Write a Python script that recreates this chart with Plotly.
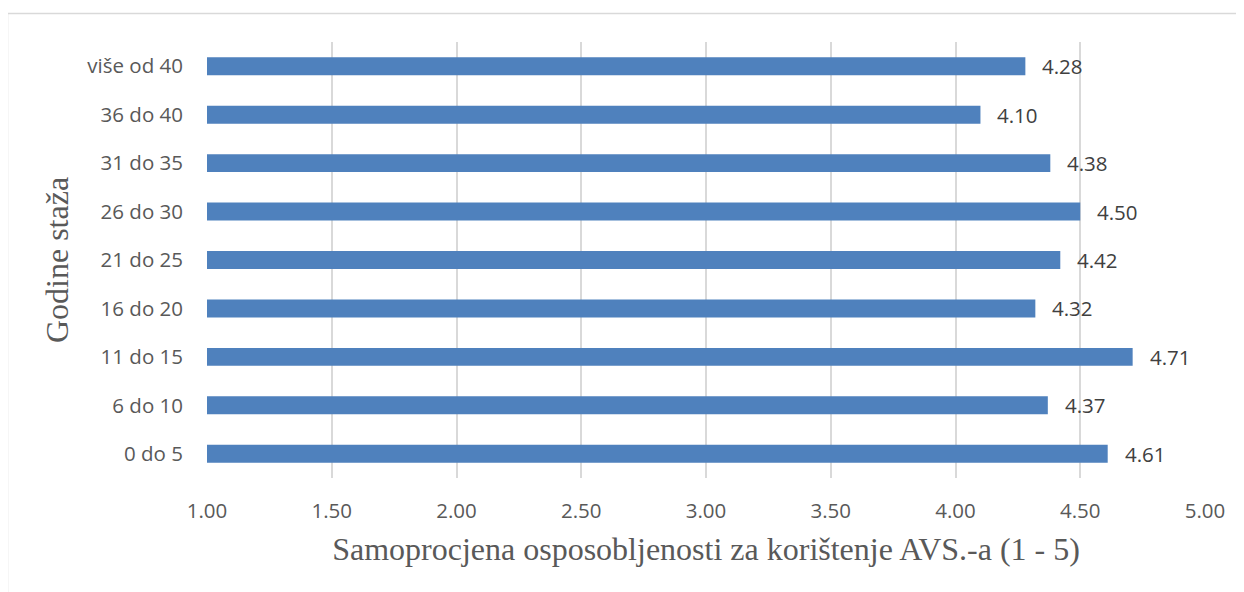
import plotly.graph_objects as go

# Data
categories = ["0 do 5", "6 do 10", "11 do 15", "16 do 20", "21 do 25",
              "26 do 30", "31 do 35", "36 do 40", "više od 40"]
values = [4.61, 4.37, 4.71, 4.32, 4.42, 4.50, 4.38, 4.10, 4.28]
tick_vals = [1.0, 1.5, 2.0, 2.5, 3.0, 3.5, 4.0, 4.5, 5.0]

# page body has an 8px margin, so the figure is a bit smaller than the window
OFF = 8
W, H = 1244 - OFF, 592 - OFF
L, R, T, B = 207 - OFF, 39, 42 - OFF, 114
pw, ph = W - L - R, H - T - B

fig = go.Figure(go.Bar(
    x=[v - 1 for v in values],
    base=1,
    y=categories,
    orientation="h",
    width=0.37,
    marker=dict(color="#4F81BD", line=dict(width=0)),
    hoverinfo="skip",
))

# data labels
for c, v in zip(categories, values):
    fig.add_annotation(x=v, y=c, text=f"{v:.2f}", showarrow=False,
                       xanchor="left", xshift=15,
                       font=dict(family="Open Sans", size=20.5, color="#404040"))

# outer chart border (cropped at right and bottom in the reference)
fig.add_shape(type="rect", xref="paper", yref="paper", layer="below",
              x0=(7.5 - OFF - L) / pw, x1=(W + 20 - L) / pw,
              y0=(T + ph - (H + 20)) / ph, y1=(T + ph - (13.5 - OFF)) / ph,
              line=dict(color="#D9D9D9", width=1.5), fillcolor="rgba(0,0,0,0)")

fig.update_layout(
    width=W, height=H,
    margin=dict(l=L, r=R, t=T, b=B, autoexpand=False),
    paper_bgcolor="white", plot_bgcolor="white",
    showlegend=False,
    xaxis=dict(
        range=[1, 5], tickvals=tick_vals,
        ticktext=[f"{t:.2f}" for t in tick_vals],
        showgrid=True, gridcolor="#D9D9D9", gridwidth=1.5,
        zeroline=False, showline=False, ticks="",
        ticklabelstandoff=18,
        tickfont=dict(family="Open Sans", size=20.5, color="#595959"),
        title=dict(text="Samoprocjena osposobljenosti za korištenje AVS.-a (1 - 5)",
                   font=dict(family="Liberation Serif", size=32, color="#595959"),
                   standoff=15),
    ),
    yaxis=dict(
        categoryorder="array", categoryarray=categories,
        range=[-0.5, 8.5],
        showgrid=False, zeroline=False, showline=False, ticks="",
        ticklabelstandoff=23,
        tickfont=dict(family="Open Sans", size=20.5, color="#595959"),
        title=dict(text="Godine staža",
                   font=dict(family="Liberation Serif", size=32, color="#595959"),
                   standoff=9),
    ),
)

fig.write_html("out.html")
